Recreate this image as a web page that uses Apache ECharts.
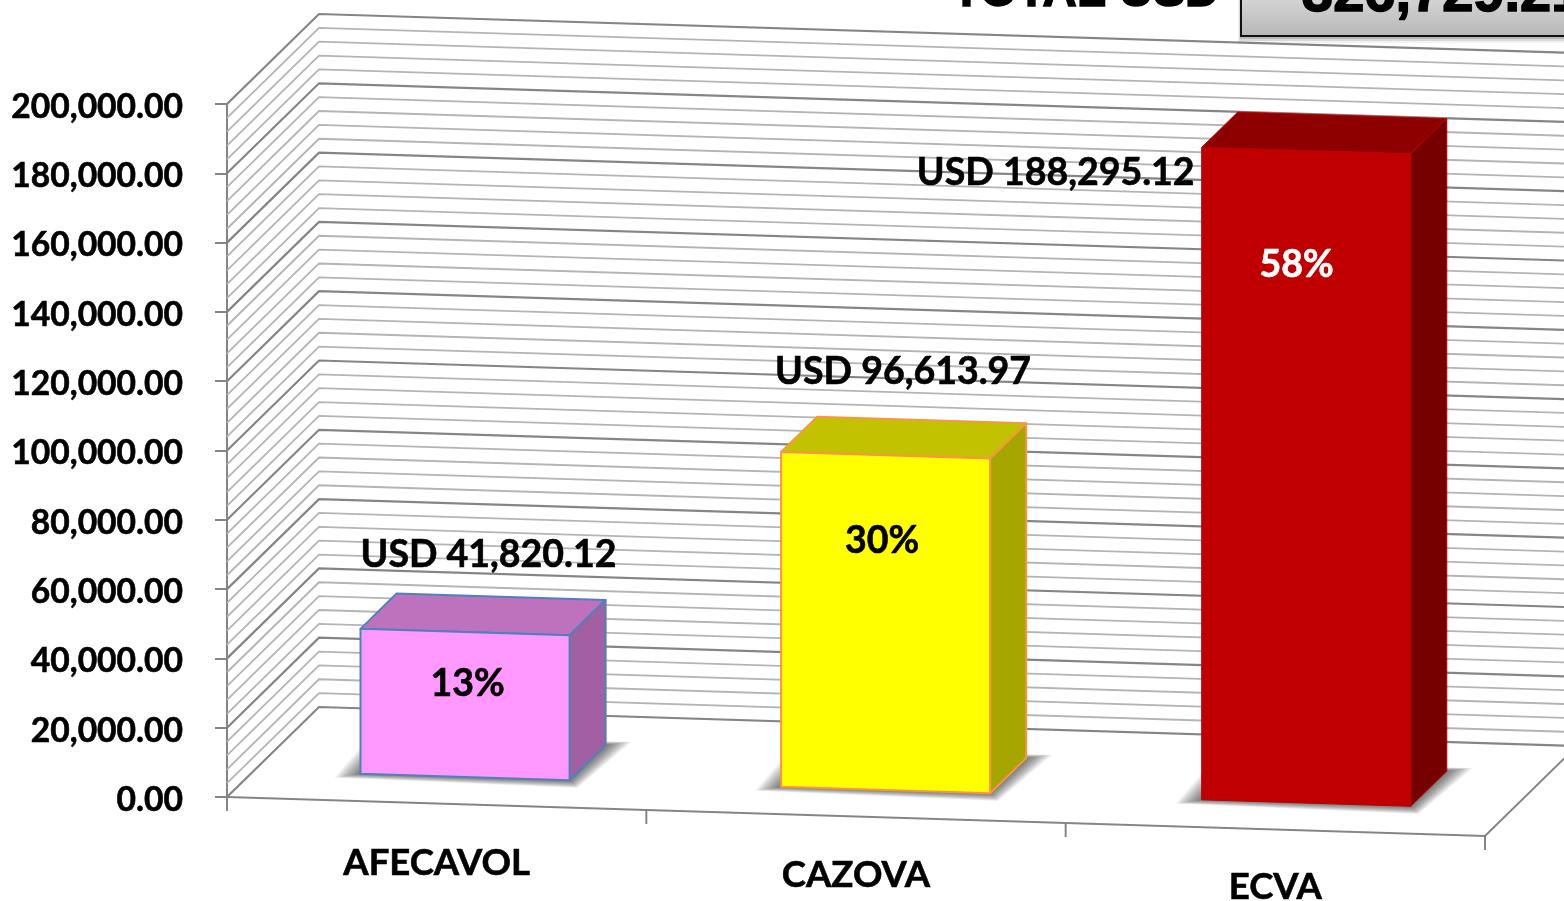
<!DOCTYPE html>
<html>
<head>
<meta charset="utf-8">
<style>html,body{margin:0;padding:0;background:#fff}#c{width:1564px;height:901px}</style>
<script src="https://cdn.jsdelivr.net/npm/echarts@6/dist/echarts.min.js"></script>
</head>
<body>
<div id="c"></div>
<script>
// ---- data ----
const categories = ['AFECAVOL', 'CAZOVA', 'ECVA'];
const values = [41820.12, 96613.97, 188295.12];
const shares = ['13%', '30%', '58%'];
const amountLabels = ['USD 41,820.12', 'USD 96,613.97', 'USD 188,295.12'];
const totalCaption = 'TOTAL USD';
const totalValue = '326,729.21';
const yMax = 200000;
const yMajor = 20000;
const yMinor = 4000;

// ---- styles ----
const frontColors = ['#FF99FF', '#FFFF00', '#C00000'];
const topColors = ['#BE72BE', '#C2C200', '#8E0000'];
const sideColors = ['#A25FA2', '#A6A600', '#760000'];
const edgeColors = ['#4F81BD', '#F79646', '#B80000'];
const FONT = 'Lato, "Open Sans", sans-serif';
const SLOPE = 0.031, DEPTH_X = 92, DEPTH_Y = 90;
const BAR_T0 = 0.295, BAR_DT = 0.392, BAR_HALF = 0.2485, BAR_STRETCH = 1.003, BAR_NUDGE = 0.6;
const amountOffsets = [[128, -74], [122, -80], [-146, 26]];
const shareOffsets = [[107, 55], [101, 89], [95, 118]];
const LINE_MAJOR = '#858585', LINE_MINOR = '#b4b4b4';
const SHADOW_LAYERS = 13;

function frameOf(api) {
  const band = api.size([1, 0])[0];
  const left = api.coord([0, 0])[0] - band / 2;
  return { band, left, right: left + categories.length * band };
}
// plane point: px = screen x on the front plane, v = value, t = depth 0..1
function pt(api, f, px, v, t) {
  const y0 = api.coord([0, v])[1];
  return [px + DEPTH_X * t, y0 + SLOPE * (px - f.left) - DEPTH_Y * t];
}

function renderGrid(params, api) {
  const f = frameOf(api), v = api.value(1);
  const major = v % yMajor === 0;
  return {
    type: 'polyline', silent: true,
    shape: { points: [pt(api, f, f.left, v, 0), pt(api, f, f.left, v, 1), pt(api, f, f.right, v, 1)] },
    style: { fill: null, stroke: major ? LINE_MAJOR : LINE_MINOR, lineWidth: major ? 2.2 : 1.8 }
  };
}

function renderFloor(params, api) {
  const f = frameOf(api);
  const kids = [{
    type: 'polyline',
    shape: { points: [pt(api, f, f.left, 0, 0), pt(api, f, f.right, 0, 0), pt(api, f, f.right, 0, 1)] },
    style: { fill: null, stroke: LINE_MAJOR, lineWidth: 2 }
  }];
  for (let i = 0; i <= categories.length; i++) {
    const a = pt(api, f, f.left + i * f.band, 0, 0);
    kids.push({ type: 'line', shape: { x1: a[0], y1: a[1], x2: a[0], y2: a[1] + 14 },
      style: { stroke: LINE_MAJOR, lineWidth: 2 } });
  }
  return { type: 'group', silent: true, children: kids };
}

function renderBar(params, api) {
  const i = api.value(0), v = api.value(1), f = frameOf(api);
  const cx = f.left + (i + 0.5) * f.band;
  const P = (side, val, t) => {
    const px = f.left + (cx + side * BAR_HALF * f.band - f.left) * BAR_STRETCH + BAR_NUDGE;
    return pt(api, f, px, val, t);
  };
  const t0 = BAR_T0, t1 = BAR_T0 + BAR_DT;
  const fbl = P(-1, 0, t0), fbr = P(1, 0, t0), ftl = P(-1, v, t0), ftr = P(1, v, t0);
  const bbl = P(-1, 0, t1), bbr = P(1, 0, t1), btl = P(-1, v, t1), btr = P(1, v, t1);
  const edge = edgeColors[i];
  const lw = i === 2 ? 1 : 2;
  const kids = [];
  // soft floor shadow: nested translucent copies of the footprint, widest first
  for (let k = SHADOW_LAYERS; k >= 1; k--) {
    const e = k * 2;
    kids.push({ type: 'polygon', silent: true,
      shape: { points: [
        [fbl[0] - e, fbl[1] + e * 0.15], [fbr[0] + e * 0.3, fbr[1] + e * 0.3],
        [bbr[0] + e, bbr[1] - e * 0.12], [bbl[0] - e, bbl[1] - e * 0.12]] },
      style: { fill: 'rgba(0,0,0,0.05)' } });
  }
  kids.push(
    { type: 'polygon', shape: { points: [ftl, ftr, btr, btl] },
      style: { fill: topColors[i], stroke: edge, lineWidth: lw, lineJoin: 'round' } },
    { type: 'polygon', shape: { points: [fbr, bbr, btr, ftr] },
      style: { fill: sideColors[i], stroke: edge, lineWidth: lw, lineJoin: 'round' } },
    { type: 'polygon', shape: { points: [fbl, fbr, ftr, ftl] },
      style: { fill: frontColors[i], stroke: edge, lineWidth: lw, lineJoin: 'round' } },
    { type: 'text', style: {
        x: ftl[0] + shareOffsets[i][0], y: ftl[1] + shareOffsets[i][1],
        text: shares[i], fill: i === 2 ? '#fff' : '#000', stroke: i === 2 ? '#fff' : '#000', lineWidth: 0.6,
        font: 'bold 37.5px ' + FONT, align: 'center', verticalAlign: 'middle' } },
    { type: 'text', style: {
        x: ftl[0] + amountOffsets[i][0], y: ftl[1] + amountOffsets[i][1],
        text: amountLabels[i], fill: '#000', stroke: '#000', lineWidth: 0.6,
        font: 'bold 37.5px ' + FONT, align: 'center', verticalAlign: 'middle' } }
  );
  return { type: 'group', children: kids };
}

const gridRows = [];
for (let v = 0; v <= yMax; v += yMinor) gridRows.push([0, v]);

const chart = echarts.init(document.getElementById('c'));
chart.setOption({
  animation: false,
  backgroundColor: '#fff',
  grid: { left: 227, right: 79, top: 104, bottom: 104, outerBoundsMode: 'none' },
  xAxis: {
    type: 'category',
    data: categories.map((c, i) => ({ value: c, textStyle: { padding: [i * 12, 0, 0, 0] } })),
    axisLine: { show: false }, axisTick: { show: false },
    axisLabel: { interval: 0, margin: 48, color: '#000', fontFamily: FONT, fontWeight: 'bold', fontSize: 36.5,
      textBorderColor: '#000', textBorderWidth: 0.6 }
  },
  yAxis: {
    type: 'value', min: 0, max: yMax, interval: yMajor,
    splitLine: { show: false },
    axisLine: { show: true, lineStyle: { color: LINE_MAJOR, width: 2 } },
    axisTick: { show: true, length: 12, lineStyle: { color: LINE_MAJOR, width: 2 } },
    axisLabel: { margin: 44, color: '#000', fontFamily: FONT, fontWeight: 'bold', fontSize: 33.6,
      textBorderColor: '#000', textBorderWidth: 0.6, verticalAlign: 'top', lineHeight: 6,
      formatter: v => v.toLocaleString('en-US', { minimumFractionDigits: 2, maximumFractionDigits: 2 }) }
  },
  series: [
    { type: 'custom', name: 'walls', coordinateSystem: 'cartesian2d', clip: false, silent: true,
      encode: { x: 0, y: 1 }, data: gridRows, renderItem: renderGrid, z: 1 },
    { type: 'custom', name: 'floor', coordinateSystem: 'cartesian2d', clip: false, silent: true,
      encode: { x: 0, y: 1 }, data: [[0, 0]], renderItem: renderFloor, z: 2 },
    { type: 'custom', name: 'USD', coordinateSystem: 'cartesian2d', clip: false,
      encode: { x: 0, y: 1 }, data: values.map((v, i) => [i, v]), renderItem: renderBar, z: 3 }
  ],
  graphic: [
    { type: 'rect', z: 9, shape: { x: 1238, y: -20, width: 360, height: 63 }, style: { fill: 'rgba(0,0,0,0.05)' } },
    { type: 'rect', z: 9, shape: { x: 1239, y: -20, width: 360, height: 61 }, style: { fill: 'rgba(0,0,0,0.1)' } },
    { type: 'rect', z: 9, shape: { x: 1240, y: -20, width: 360, height: 59 }, style: { fill: 'rgba(0,0,0,0.15)' } },
    { type: 'rect', z: 10, shape: { x: 1241, y: -20, width: 360, height: 56 },
      style: {
        fill: { type: 'linear', x: 0, y: 0, x2: 0, y2: 1, colorStops: [{ offset: 0, color: '#e4e4e4' }, { offset: 1, color: '#b6b6b6' }] },
        stroke: '#111', lineWidth: 2 } },
    { type: 'text', z: 11, style: { x: 1302, y: -32, text: totalValue, fill: '#000', stroke: '#000', lineWidth: 1.5,
        font: 'bold 56px "Liberation Sans", Arial, sans-serif', align: 'left', verticalAlign: 'top' } },
    { type: 'text', z: 11, style: { x: 952, y: -31, text: totalCaption, fill: '#000', stroke: '#000', lineWidth: 1.5,
        font: 'bold 47.5px "Liberation Sans", Arial, sans-serif', align: 'left', verticalAlign: 'top' } }
  ]
});
</script>
</body>
</html>
